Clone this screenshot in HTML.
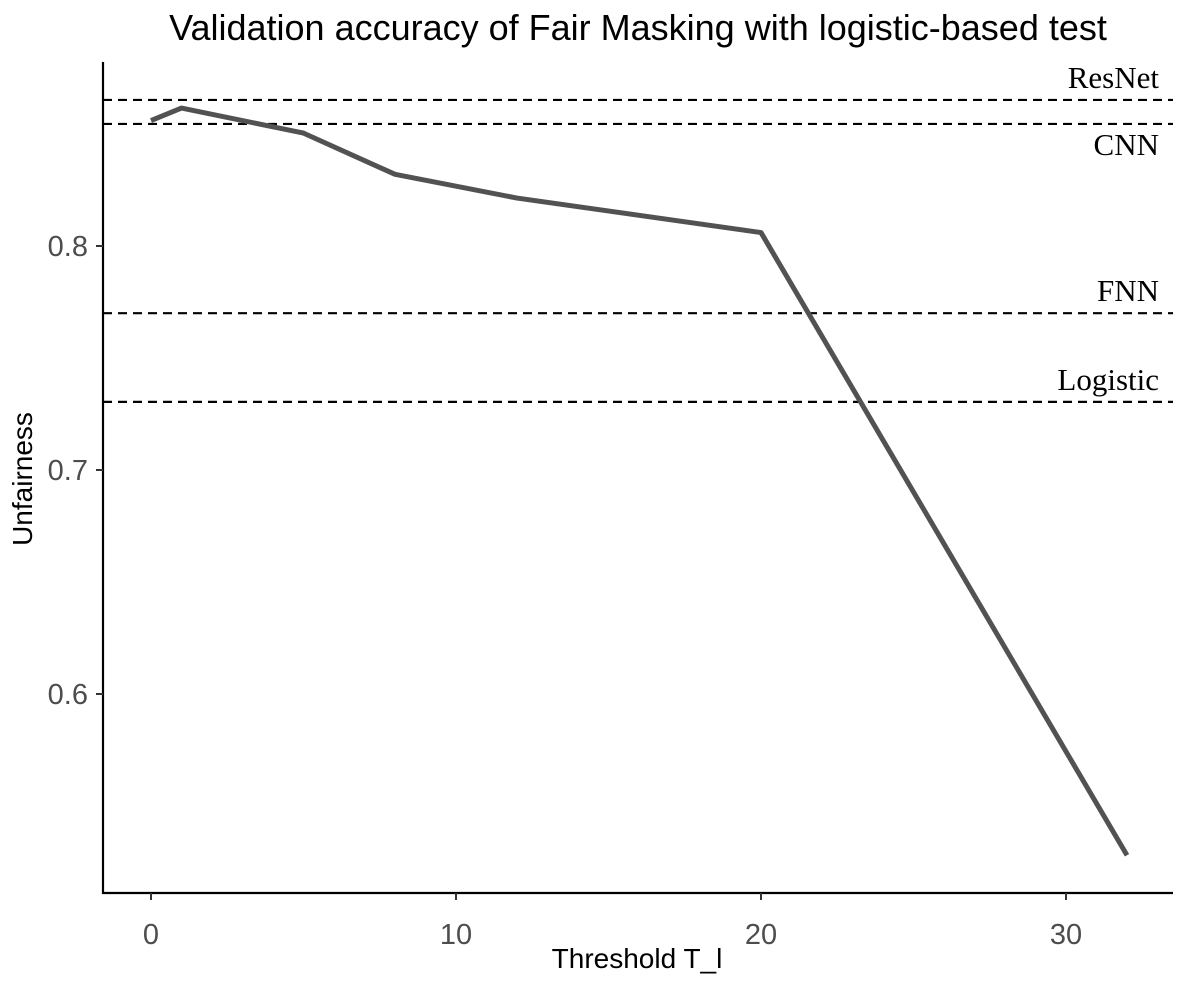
<!DOCTYPE html>
<html><head><meta charset="utf-8"><style>
html,body{margin:0;padding:0;background:#fff;}
svg{display:block;font-family:"Liberation Sans",sans-serif;}
</style></head><body>
<svg id="chart" width="1184" height="984">
<text x="638" y="40" text-anchor="middle" font-size="36" fill="#000">Validation accuracy of Fair Masking with logistic-based test</text>
<text x="637" y="968" text-anchor="middle" font-size="28" fill="#000">Threshold T_l</text>
<text transform="translate(32,479) rotate(-90)" text-anchor="middle" font-size="28" fill="#000">Unfairness</text>
<g id="refs"></g>
<g id="axes"></g>
<path id="line" fill="none" stroke="#525252" stroke-width="5" stroke-linejoin="round"/>
</svg>
<script>
const xs=[0,1,5,8,12,20,32];
const ys=[0.856,0.8616,0.8504,0.832,0.8214,0.806,0.528];
const refNames=["ResNet","CNN","FNN","Logistic"];
const refValues=[0.8652,0.8545,0.770,0.7304];
const xTicks=[0,10,20,30];
const yTicks=[0.6,0.7,0.8];
const X=v=>151+v*30.5;
const Y=v=>246-(v-0.8)*2240;
const NS="http://www.w3.org/2000/svg";
function mk(t,a,p){const e=document.createElementNS(NS,t);for(const k in a)e.setAttribute(k,a[k]);p.appendChild(e);return e;}
const ax=document.getElementById('axes');
let l=mk('line',{x1:103,y1:62,x2:103,y2:894,stroke:'#000','stroke-width':2.2},ax);


l=mk('line',{x1:102,y1:893,x2:1173,y2:893,stroke:'#000','stroke-width':2.2},ax);


xTicks.forEach(t=>{
 const tk=mk('line',{x1:X(t),y1:893,x2:X(t),y2:900,stroke:'#333','stroke-width':2},ax);
 
 
 const tx=mk('text',{x:X(t),y:944,'text-anchor':'middle','font-size':29,fill:'#4d4d4d'},ax);
 tx.textContent=t;
 
 
});
yTicks.forEach(t=>{
 const tk=mk('line',{x1:96,y1:Y(t),x2:103,y2:Y(t),stroke:'#333','stroke-width':2},ax);
 
 
 const tx=mk('text',{x:88,y:Y(t)+10,'text-anchor':'end','font-size':29,fill:'#4d4d4d'},ax);
 tx.textContent=t.toFixed(1);
 
 
});
const rg=document.getElementById('refs');
refNames.forEach((n,i)=>{
 const y=Y(refValues[i]);
 const ln=mk('line',{x1:103,y1:y,x2:1173,y2:y,stroke:'#000','stroke-width':2.2,'stroke-dasharray':'9,6'},rg);
 
 
 const ty=n==="CNN"?y+31:y-12;
 const tx=mk('text',{x:1159,y:ty,'text-anchor':'end','font-size':31,fill:'#000','font-family':'"Liberation Serif",serif'},rg);
 tx.textContent=n;
 
 
});
document.getElementById('line').setAttribute('d',xs.map((x,i)=>(i?'L':'M')+X(x)+','+Y(ys[i])).join(' '));
</script>
</body></html>
